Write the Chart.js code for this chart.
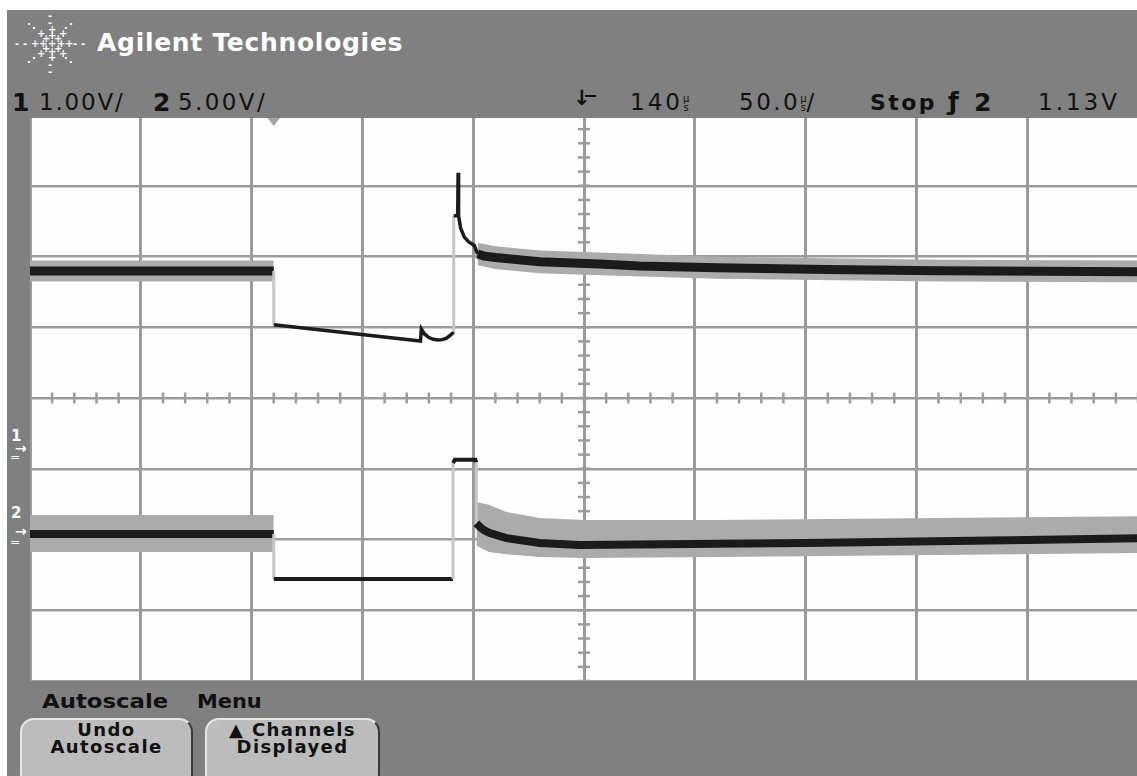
<!DOCTYPE html>
<html>
<head>
<meta charset="utf-8">
<script src="https://cdn.jsdelivr.net/npm/chart.js@4/dist/chart.umd.min.js"></script>
<style>
  html, body { margin: 0; padding: 0; }
  body { width: 1137px; height: 776px; overflow: hidden; position: relative; background: #fff; font-family: "DejaVu Sans", sans-serif; }
  #bg { position: absolute; left: 7px; top: 10px; width: 1130px; height: 766px; background: #808080; }
  #hdr { position: absolute; left: 7px; top: 10px; width: 1130px; height: 108px; background: #808080; z-index: 3; }
  #plot { position: absolute; left: 30px; top: 115px; width: 1108px; height: 566px; background: #fefefe; z-index: 1; }
  .abs { position: absolute; white-space: nowrap; }
  .title { color: #fff; font-weight: bold; font-size: 25px; line-height: 25px; letter-spacing: 0.7px; }
  .st { color: #111; font-size: 23px; line-height: 23px; }
  .stb { color: #111; font-size: 25px; line-height: 25px; font-weight: bold; }
  .us { display: inline-block; font-size: 10px; line-height: 9px; text-align: center; vertical-align: -1px; letter-spacing: 0; }
  .logo { color: #fff; font-size: 10px; line-height: 10px; font-weight: bold; }
  .menu { color: #111; font-size: 19px; line-height: 19px; font-weight: bold; transform: scaleX(1.2); transform-origin: left top; }
  .btn { position: absolute; top: 718px; height: 70px; background: #bcbcbc; border: 2px solid #e6e6e6; border-right-color: #3a3a3a; border-radius: 14px; box-sizing: border-box; z-index: 3; }
  .btn div { position: absolute; left: 0; right: 0; top: 1px; text-align: center; color: #111; font-weight: bold; font-size: 18px; line-height: 17px; letter-spacing: 1.4px; }
  .chm { color: #fff; font-weight: bold; font-size: 15px; line-height: 15px; z-index: 3; }
</style>
</head>
<body>
<div id="bg"></div>
<div id="hdr"></div>
<div id="plot"><canvas id="c" width="1108" height="566"></canvas></div>
<div id="overlay"></div>
<script>
// ---- scope settings ----
const timePerDivUs = 50.0;
const delayUs = 140;
const ch1VoltsPerDiv = 1.00;
const ch2VoltsPerDiv = 5.00;
const ch1GroundDiv = 3.275;   // divisions above bottom graticule line
const ch2GroundDiv = 2.11;
const xDivisions = 10;
const yDivisions = 8;

// ---- channel 1 trace ----
const ch1TimeUs = [-110, 0, 0, 66.2, 66.6, 68, 70, 72, 74, 76, 78, 80, 81.2, 81.2, 83.0, 83.2, 83.4, 84.3, 86, 88, 90.5, 92, 95, 100, 120, 147, 165, 200, 250, 300, 390];
const ch1Volts  = [2.52, 2.52, 1.76, 1.53, 1.70, 1.63, 1.58, 1.555, 1.545, 1.55, 1.57, 1.62, 1.66, 3.30, 3.30, 3.91, 3.30, 3.13, 3.00, 2.93, 2.88, 2.76, 2.73, 2.71, 2.65, 2.62, 2.59, 2.565, 2.54, 2.525, 2.51];
const ch1QuietUs = [0, 92];
const ch1NoiseTimeUs = [-110, 0, 45, 92, 100, 120, 147, 200, 300, 390];
const ch1NoiseHigh   = [2.67, 2.67, null, 2.92, 2.87, 2.81, 2.78, 2.72, 2.68, 2.67];
const ch1NoiseLow    = [2.37, 2.37, null, 2.60, 2.55, 2.49, 2.46, 2.41, 2.37, 2.36];

// ---- channel 2 trace ----
const ch2TimeUs = [-110, 0, 0, 80.9, 80.9, 81.7, 91.0, 91.4, 91.4, 93, 95, 97.5, 105, 120, 138, 188, 240, 282, 340, 390];
const ch2Volts  = [-0.16, -0.16, -3.34, -3.34, 4.86, 5.08, 5.08, 4.9, 0.6, 0.35, 0.1, -0.1, -0.45, -0.80, -0.94, -0.87, -0.80, -0.71, -0.58, -0.47];
const ch2QuietUs = [0, 91.4];
const ch2NoiseTimeUs = [-110, 0, 45, 91.5, 97, 105, 120, 140, 200, 300, 390];
const ch2NoiseHigh   = [1.18, 1.18, null, 2.1, 1.9, 1.39, 0.97, 0.83, 0.83, 0.97, 1.1];
const ch2NoiseLow    = [-1.43, -1.43, null, -1.0, -1.43, -1.6, -1.78, -1.85, -1.78, -1.65, -1.5];

// ---- derived axis ranges ----
const xMin = delayUs - (xDivisions / 2) * timePerDivUs;
const xMax = delayUs + (xDivisions / 2) * timePerDivUs;
const y1Min = -ch1GroundDiv * ch1VoltsPerDiv;
const y1Max = (yDivisions - ch1GroundDiv) * ch1VoltsPerDiv;
const y2Min = -ch2GroundDiv * ch2VoltsPerDiv;
const y2Max = (yDivisions - ch2GroundDiv) * ch2VoltsPerDiv;

const pts = (ts, vs) => ts.map((t, i) => ({ x: t, y: vs[i] }));
const isVertical = c => c.p0.parsed.x === c.p1.parsed.x;
const inQuiet = (c, q) => c.p0.parsed.x >= q[0] && c.p1.parsed.x <= q[1];

const traceColor = '#1b1b1b';
const edgeColor = '#c6c6c6';
const noiseColor = '#ababab';
const gridColor = '#9b9b9b';

function traceDataset(ts, vs, axis, quiet, noisyW, quietW) {
  return {
    data: pts(ts, vs), yAxisID: axis, order: 0,
    borderColor: traceColor, borderWidth: quietW, pointRadius: 0, tension: 0, fill: false,
    borderCapStyle: 'butt', borderJoinStyle: 'miter',
    segment: {
      borderColor: c => isVertical(c) ? edgeColor : undefined,
      borderWidth: c => isVertical(c) ? 3 : (inQuiet(c, quiet) ? quietW : noisyW)
    }
  };
}
function noiseDatasets(ts, hi, lo, axis) {
  return [
    { data: pts(ts, hi), yAxisID: axis, order: 2, borderWidth: 0, borderColor: 'rgba(0,0,0,0)', pointRadius: 0, fill: false, spanGaps: false },
    { data: pts(ts, lo), yAxisID: axis, order: 2, borderWidth: 0, borderColor: 'rgba(0,0,0,0)', pointRadius: 0, fill: '-1', backgroundColor: noiseColor, spanGaps: false }
  ];
}

const graticule = {
  id: 'graticule',
  beforeDatasetsDraw(chart) {
    const { ctx, chartArea: a, scales } = chart;
    const x = scales.x, y = scales.y;
    const cx = x.getPixelForValue(delayUs);
    const cy = y.getPixelForValue(y1Min + (yDivisions / 2) * ch1VoltsPerDiv);
    ctx.save();
    ctx.strokeStyle = gridColor;
    ctx.lineWidth = 2.5;
    for (let i = 0; i <= xDivisions * 5; i++) {
      const px = x.getPixelForValue(xMin + i * timePerDivUs / 5);
      ctx.beginPath(); ctx.moveTo(px, cy - 5.5); ctx.lineTo(px, cy + 5.5); ctx.stroke();
    }
    for (let i = 0; i <= yDivisions * 5; i++) {
      const py = y.getPixelForValue(y1Min + i * ch1VoltsPerDiv / 5);
      ctx.beginPath(); ctx.moveTo(cx - 6, py); ctx.lineTo(cx + 6, py); ctx.stroke();
    }
    // trigger-time marker (t = 0) at top of screen
    const tx = x.getPixelForValue(0);
    ctx.fillStyle = '#a4a4a4';
    ctx.beginPath(); ctx.moveTo(tx - 7, a.top + 2); ctx.lineTo(tx + 7, a.top + 2); ctx.lineTo(tx, a.top + 11); ctx.closePath(); ctx.fill();
    ctx.restore();
  }
};

const gridTicksX = Array.from({ length: xDivisions + 1 }, (_, i) => xMin + i * timePerDivUs);
const gridTicksY = Array.from({ length: yDivisions + 1 }, (_, i) => y1Min + i * ch1VoltsPerDiv);

new Chart(document.getElementById('c'), {
  type: 'line',
  data: {
    datasets: [
      traceDataset(ch1TimeUs, ch1Volts, 'y', ch1QuietUs, 9, 3.5),
      traceDataset(ch2TimeUs, ch2Volts, 'y2', ch2QuietUs, 8, 4),
      ...noiseDatasets(ch1NoiseTimeUs, ch1NoiseHigh, ch1NoiseLow, 'y'),
      ...noiseDatasets(ch2NoiseTimeUs, ch2NoiseHigh, ch2NoiseLow, 'y2')
    ]
  },
  options: {
    responsive: false, animation: false, devicePixelRatio: 1,
    layout: { padding: 0 },
    plugins: { legend: { display: false }, tooltip: { enabled: false } },
    scales: {
      x: {
        type: 'linear', min: xMin, max: xMax,
        afterBuildTicks: s => { s.ticks = gridTicksX.map(v => ({ value: v })); },
        ticks: { display: false },
        grid: { color: gridColor, lineWidth: 3, drawTicks: false },
        border: { display: false }
      },
      y: {
        type: 'linear', min: y1Min, max: y1Max,
        afterBuildTicks: s => { s.ticks = gridTicksY.map(v => ({ value: v })); },
        ticks: { display: false },
        grid: { color: gridColor, lineWidth: 2.5, drawTicks: false },
        border: { display: false }
      },
      y2: { type: 'linear', min: y2Min, max: y2Max, display: false }
    }
  },
  plugins: [graticule]
});

// ---- screen text overlay ----
const ov = document.getElementById('overlay');
function put(html, cls, left, top, extra) {
  const d = document.createElement('div');
  d.className = 'abs ' + cls;
  d.style.left = left + 'px'; d.style.top = top + 'px';
  d.style.zIndex = 4;
  if (extra) Object.assign(d.style, extra);
  d.innerHTML = html;
  ov.appendChild(d);
  return d;
}
// logo starburst
const logoCx = 51, logoCy = 44;
for (let k = 0; k < 8; k++) {
  const ang = k * Math.PI / 4;
  [8, 15, 22, 29].forEach((r, j) => {
    const rr = (k % 4 === 0) ? r * 1.15 : r;
    const ch = j < 2 ? '+' : (k % 2 === 0 ? '-' : '·');
    put(ch, 'logo', Math.round(logoCx + rr * Math.cos(ang) - 3), Math.round(logoCy + rr * Math.sin(ang) * 0.95 - 5));
  });
}
put('+', 'logo', logoCx - 3, logoCy - 5);
put('Agilent Technologies', 'title', 97, 30);

// status line
put('1', 'stb', 12, 90);
put('1.00V/', 'st', 39, 90.5, { letterSpacing: '1.8px' });
put('2', 'stb', 153, 90);
put('5.00V/', 'st', 178, 90.5, { letterSpacing: '2.4px' });
put('↓', 'st', 573, 87, { fontWeight: 'bold', fontSize: '21px' });
put('', 'st', 585, 95, { width: '11px', height: '2px', background: '#111' });
put('140<span class="us">µ<br>s</span>', 'st', 630, 90.5, { letterSpacing: '3px' });
put('50.0<span class="us">µ<br>s</span>/', 'st', 739, 90.5, { letterSpacing: '2.5px' });
put('Stop', 'st', 870, 90.5, { letterSpacing: '2.4px', fontWeight: '600', fontSize: '22px' });
put('ƒ', 'stb', 948, 89);
put('2', 'stb', 974, 90);
put('1.13V', 'st', 1038, 90.5, { letterSpacing: '3px' });

// channel ground markers on left strip
put('1', 'chm', 11, 429);
put('→', 'chm', 15, 441, { fontSize: '14px' });
put('=', 'chm', 10, 450, { fontSize: '12px', fontWeight: 'normal' });
put('2', 'chm', 11, 506);
put('→', 'chm', 15, 524, { fontSize: '14px' });
put('=', 'chm', 10, 535, { fontSize: '12px', fontWeight: 'normal' });

// softkey menu
put('Autoscale', 'menu', 42, 692);
put('Menu', 'menu', 197, 692, { transform: 'scaleX(1.1)' });
const b1 = document.createElement('div'); b1.className = 'btn'; b1.style.left = '20px'; b1.style.width = '173px';
b1.innerHTML = '<div>Undo<br>Autoscale</div>'; document.body.appendChild(b1);
const b2 = document.createElement('div'); b2.className = 'btn'; b2.style.left = '205px'; b2.style.width = '175px';
b2.innerHTML = '<div>▲ Channels<br>Displayed</div>'; document.body.appendChild(b2);
</script>
</body>
</html>
